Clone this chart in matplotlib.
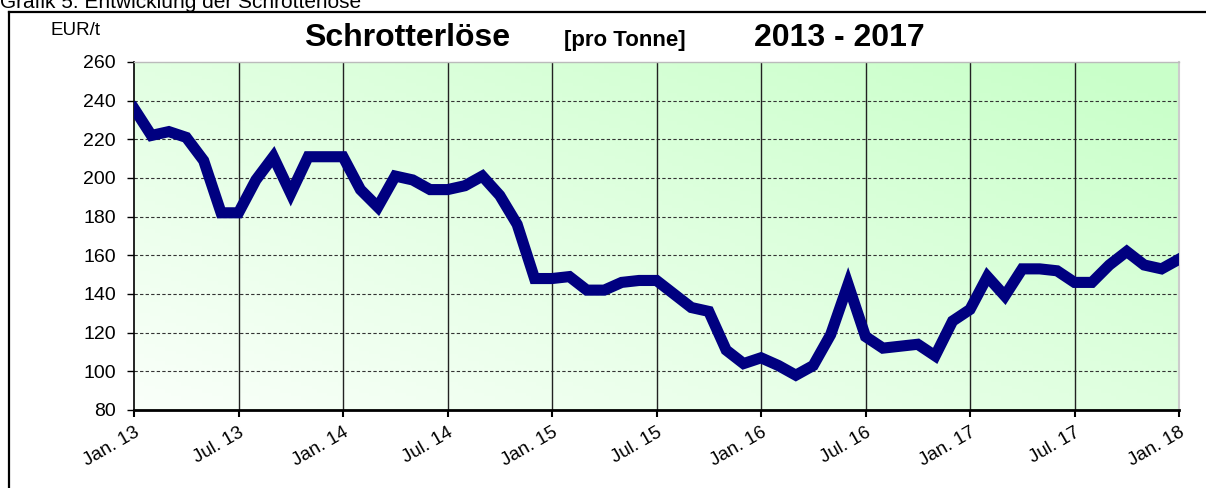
import matplotlib.pyplot as plt
import numpy as np

# monthly scrap revenue, Jan. 2013 .. Jan. 2018 (EUR per tonne)
months = list(range(61))
preise = [236, 222, 224, 221, 209, 182, 182, 199, 211, 192, 211, 211,
          211, 194, 185, 201, 199, 194, 194, 196, 201, 191, 176, 148,
          148, 149, 142, 142, 146, 147, 147, 140, 133, 131, 111, 104,
          107, 103, 98, 103, 119, 145, 118, 112, 113, 114, 108, 126,
          132, 149, 139, 153, 153, 152, 146, 146, 155, 162, 155, 153,
          158]
tick_pos = list(range(0, 61, 6))
tick_labels = ['Jan. 13', 'Jul. 13', 'Jan. 14', 'Jul. 14', 'Jan. 15', 'Jul. 15',
               'Jan. 16', 'Jul. 16', 'Jan. 17', 'Jul. 17', 'Jan. 18']
y_ticks = list(range(80, 261, 20))

plt.rcParams['font.family'] = ['Liberation Sans', 'DejaVu Sans']

W, H = 1206, 488
fig = plt.figure(figsize=(W / 100, H / 100), dpi=100)
fig.patch.set_facecolor('white')

# caption, cut off at the top of the picture
fig.text(0 / W, 1 - 8 / H, 'Grafik 5: Entwicklung der Schrotterlöse',
         fontsize=15, va='baseline', ha='left', color='black')

# outer frame
fig.add_artist(plt.Line2D([9 / W, 1], [1 - 12 / H, 1 - 12 / H], color='black', lw=1.6))
fig.add_artist(plt.Line2D([9 / W, 9 / W], [0, 1 - 12 / H], color='black', lw=1.6))

ax = fig.add_axes([134 / W, 1 - 410 / H, (1179 - 134) / W, (410 - 62) / H])

# diagonal gradient white -> light green
gx, gy = np.meshgrid(np.linspace(0, 1, 200), np.linspace(0, 1, 100))
t = np.clip(0.55 * gx + 0.5 * gy, 0, 1)
img = np.zeros((100, 200, 3))
img[..., 0] = 0.98 - 0.19 * t
img[..., 1] = 1.0
img[..., 2] = 0.98 - 0.19 * t
ax.imshow(img, extent=[0, 60, 80, 260], origin='lower', aspect='auto', zorder=0)

for yv in y_ticks[1:-1]:
    ax.axhline(yv, color='#333333', lw=0.8, ls=(0, (3, 2)), zorder=1)
for xv in tick_pos[1:-1]:
    ax.axvline(xv, color='#222222', lw=1.0, zorder=1)

ax.plot(months, preise, color='#000080', lw=8, solid_joinstyle='miter', zorder=3)

ax.set_xlim(0, 60)
ax.set_ylim(80, 260)
ax.set_yticks(y_ticks)
ax.set_yticklabels([str(v) for v in y_ticks], fontsize=14)
ax.set_xticks(tick_pos)
ax.set_xticklabels(tick_labels, fontsize=13.5, rotation=30, ha='right', va='top',
                   rotation_mode='anchor')
ax.tick_params(axis='y', length=5, width=1, pad=8, color='black')
ax.tick_params(axis='x', length=5, width=1.5, pad=5, color='black')

ax.spines['left'].set_color('black')
ax.spines['left'].set_linewidth(1.2)
ax.spines['bottom'].set_color('black')
ax.spines['bottom'].set_linewidth(2)
ax.spines['top'].set_color('#bbbbbb')
ax.spines['top'].set_linewidth(1)
ax.spines['right'].set_color('#cccccc')
ax.spines['right'].set_linewidth(1.5)

# title pieces
fig.text(407 / W, 1 - 46 / H, 'Schrotterlöse', fontsize=23, fontweight='bold',
         va='baseline', ha='center')
fig.text(625 / W, 1 - 46 / H, '[pro Tonne]', fontsize=16, fontweight='bold',
         va='baseline', ha='center')
fig.text(839 / W, 1 - 46 / H, '2013 - 2017', fontsize=23, fontweight='bold',
         va='baseline', ha='center')
fig.text(50 / W, 1 - 35 / H, 'EUR/t', fontsize=13.5, va='baseline', ha='left')

fig.savefig('out.png', dpi=100)
